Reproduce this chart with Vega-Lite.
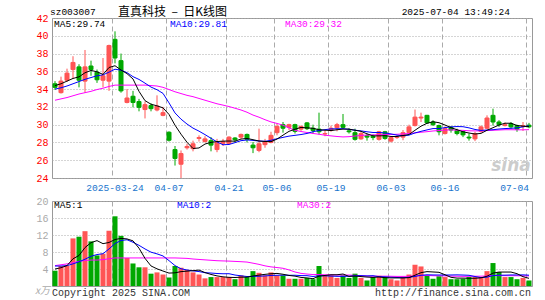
{
"$schema":"https://vega.github.io/schema/vega-lite/v6.json",
"background":"white",
"padding":{"left":34,"top":5,"right":5,"bottom":0},
"spacing":23,
"bounds":"flush",
"config":{"view":{"stroke":"#999","strokeWidth":1},"font":"Liberation Mono","text":{"font":"Liberation Mono","fontSize":9.5},"axis":{"labelOverlap":false,"labelBound":false,"labelFlush":false}},
"datasets":{"k":[
{"d":"2025-03-10","o":34.6,"h":34.9,"l":33.9,"c":34.2,"v":3.6,"m5":34.4,"m10":34.0,"m30":32.75,"v5":4.0,"v10":4.7,"v30":4.8},
{"d":"2025-03-11","o":33.6,"h":35.4,"l":33.5,"c":34.9,"v":4.7,"m5":34.6,"m10":34.15,"m30":32.9,"v5":4.3,"v10":4.7,"v30":5.0},
{"d":"2025-03-12","o":35.0,"h":36.3,"l":34.8,"c":35.8,"v":4.8,"m5":34.9,"m10":34.35,"m30":33.05,"v5":4.8,"v10":4.8,"v30":5.2},
{"d":"2025-03-13","o":36.2,"h":37.7,"l":35.2,"c":37.0,"v":11.2,"m5":35.2,"m10":34.6,"m30":33.25,"v5":6.4,"v10":5.2,"v30":5.5},
{"d":"2025-03-14","o":36.5,"h":36.8,"l":34.2,"c":35.0,"v":11.6,"m5":35.38,"m10":34.85,"m30":33.45,"v5":7.18,"v10":5.7,"v30":5.8},
{"d":"2025-03-17","o":34.9,"h":38.4,"l":33.6,"c":36.5,"v":12.9,"m5":35.84,"m10":35.1,"m30":33.6,"v5":9.04,"v10":6.3,"v30":6.0},
{"d":"2025-03-18","o":36.6,"h":37.2,"l":35.5,"c":36.2,"v":10.5,"m5":36.1,"m10":35.3,"m30":33.75,"v5":10.2,"v10":7.0,"v30":6.1},
{"d":"2025-03-19","o":35.9,"h":36.2,"l":34.7,"c":35.05,"v":7.2,"m5":35.95,"m10":35.5,"m30":33.95,"v5":10.68,"v10":7.4,"v30":6.1},
{"d":"2025-03-20","o":35.0,"h":37.5,"l":34.2,"c":35.5,"v":7.6,"m5":35.65,"m10":35.6,"m30":34.1,"v5":9.96,"v10":7.6,"v30":6.2},
{"d":"2025-03-21","o":34.9,"h":39.0,"l":33.8,"c":38.9,"v":13.0,"m5":36.43,"m10":35.91,"m30":34.3,"v5":10.24,"v10":8.71,"v30":6.4},
{"d":"2025-03-24","o":39.6,"h":40.5,"l":36.9,"c":37.5,"v":16.4,"m5":36.63,"m10":36.24,"m30":34.45,"v5":10.94,"v10":9.99,"v30":6.6},
{"d":"2025-03-25","o":37.2,"h":38.0,"l":33.6,"c":33.8,"v":11.8,"m5":36.15,"m10":36.13,"m30":34.45,"v5":11.2,"v10":10.7,"v30":6.6},
{"d":"2025-03-26","o":32.5,"h":34.0,"l":32.4,"c":33.0,"v":6.6,"m5":35.74,"m10":35.85,"m30":34.45,"v5":11.08,"v10":10.88,"v30":6.6},
{"d":"2025-03-27","o":33.2,"h":33.8,"l":31.95,"c":32.5,"v":5.3,"m5":35.14,"m10":35.4,"m30":34.45,"v5":10.62,"v10":10.29,"v30":6.6},
{"d":"2025-03-28","o":32.6,"h":32.9,"l":31.5,"c":31.95,"v":4.4,"m5":33.75,"m10":35.09,"m30":34.45,"v5":8.9,"v10":9.57,"v30":6.6},
{"d":"2025-03-31","o":31.7,"h":32.6,"l":30.7,"c":32.25,"v":4.4,"m5":32.7,"m10":34.67,"m30":34.45,"v5":6.5,"v10":8.72,"v30":6.6},
{"d":"2025-04-01","o":32.15,"h":32.4,"l":31.5,"c":31.8,"v":2.9,"m5":32.3,"m10":34.23,"m30":34.4,"v5":4.72,"v10":7.96,"v30":6.6},
{"d":"2025-04-02","o":31.65,"h":33.3,"l":31.5,"c":32.1,"v":3.2,"m5":32.12,"m10":33.93,"m30":34.35,"v5":4.04,"v10":7.56,"v30":6.6},
{"d":"2025-04-03","o":31.05,"h":32.0,"l":30.95,"c":31.35,"v":2.7,"m5":31.89,"m10":33.52,"m30":34.2,"v5":3.52,"v10":7.07,"v30":6.6},
{"d":"2025-04-07","o":29.15,"h":29.25,"l":28.1,"c":28.25,"v":2.0,"m5":31.15,"m10":32.45,"m30":33.95,"v5":3.04,"v10":5.97,"v30":6.6},
{"d":"2025-04-08","o":27.2,"h":27.6,"l":25.4,"c":26.2,"v":4.7,"m5":29.94,"m10":31.32,"m30":33.7,"v5":3.1,"v10":4.8,"v30":6.6},
{"d":"2025-04-09","o":25.55,"h":27.1,"l":24.0,"c":26.75,"v":4.3,"m5":28.93,"m10":30.62,"m30":33.5,"v5":3.38,"v10":4.05,"v30":6.55},
{"d":"2025-04-10","o":27.4,"h":27.85,"l":27.2,"c":27.55,"v":3.8,"m5":28.02,"m10":30.07,"m30":33.3,"v5":3.5,"v10":3.77,"v30":6.5},
{"d":"2025-04-11","o":27.3,"h":28.2,"l":27.0,"c":27.85,"v":3.2,"m5":27.32,"m10":29.61,"m30":33.15,"v5":3.6,"v10":3.56,"v30":6.35},
{"d":"2025-04-14","o":28.45,"h":28.8,"l":28.1,"c":28.55,"v":2.7,"m5":27.38,"m10":29.27,"m30":32.95,"v5":3.74,"v10":3.39,"v30":6.25},
{"d":"2025-04-15","o":28.1,"h":28.7,"l":28.0,"c":28.4,"v":1.8,"m5":27.82,"m10":28.88,"m30":32.75,"v5":3.16,"v10":3.13,"v30":6.15},
{"d":"2025-04-16","o":28.2,"h":28.6,"l":27.0,"c":27.7,"v":2.1,"m5":28.01,"m10":28.47,"m30":32.55,"v5":2.72,"v10":3.05,"v30":6.05},
{"d":"2025-04-17","o":27.2,"h":28.4,"l":26.9,"c":28.0,"v":2.1,"m5":28.1,"m10":28.06,"m30":32.35,"v5":2.38,"v10":2.94,"v30":5.95},
{"d":"2025-04-18","o":27.9,"h":28.4,"l":27.6,"c":28.1,"v":2.1,"m5":28.15,"m10":27.74,"m30":32.2,"v5":2.16,"v10":2.88,"v30":5.9},
{"d":"2025-04-21","o":27.9,"h":28.7,"l":27.8,"c":28.6,"v":2.1,"m5":28.16,"m10":27.77,"m30":32.04,"v5":2.04,"v10":2.89,"v30":5.86},
{"d":"2025-04-22","o":28.5,"h":28.6,"l":28.0,"c":28.3,"v":1.6,"m5":28.14,"m10":27.98,"m30":31.85,"v5":2.0,"v10":2.58,"v30":5.79},
{"d":"2025-04-23","o":28.6,"h":29.0,"l":28.4,"c":28.9,"v":2.5,"m5":28.38,"m10":28.2,"m30":31.65,"v5":2.08,"v10":2.4,"v30":5.72},
{"d":"2025-04-24","o":28.9,"h":29.0,"l":28.0,"c":28.35,"v":2.1,"m5":28.45,"m10":28.28,"m30":31.4,"v5":2.08,"v10":2.23,"v30":5.63},
{"d":"2025-04-25","o":27.7,"h":28.05,"l":26.8,"c":27.4,"v":3.5,"m5":28.31,"m10":28.23,"m30":31.08,"v5":2.36,"v10":2.26,"v30":5.37},
{"d":"2025-04-28","o":27.1,"h":29.55,"l":26.9,"c":27.85,"v":3.1,"m5":28.16,"m10":28.16,"m30":30.84,"v5":2.56,"v10":2.3,"v30":5.09},
{"d":"2025-04-29","o":27.75,"h":28.4,"l":27.4,"c":28.05,"v":2.5,"m5":28.11,"m10":28.13,"m30":30.56,"v5":2.74,"v10":2.37,"v30":4.74},
{"d":"2025-04-30","o":28.0,"h":29.2,"l":27.9,"c":28.8,"v":3.2,"m5":28.09,"m10":28.24,"m30":30.31,"v5":2.88,"v10":2.48,"v30":4.5},
{"d":"2025-05-06","o":29.1,"h":30.1,"l":28.8,"c":29.8,"v":2.5,"m5":28.38,"m10":28.42,"m30":30.14,"v5":2.96,"v10":2.52,"v30":4.34},
{"d":"2025-05-07","o":30.0,"h":30.3,"l":29.1,"c":29.6,"v":2.5,"m5":28.82,"m10":28.57,"m30":29.94,"v5":2.76,"v10":2.56,"v30":4.17},
{"d":"2025-05-08","o":29.7,"h":30.1,"l":29.4,"c":30.0,"v":1.7,"m5":29.25,"m10":28.71,"m30":29.64,"v5":2.48,"v10":2.52,"v30":3.79},
{"d":"2025-05-09","o":30.0,"h":30.1,"l":29.0,"c":29.25,"v":1.7,"m5":29.49,"m10":28.8,"m30":29.37,"v5":2.32,"v10":2.53,"v30":3.3},
{"d":"2025-05-12","o":29.5,"h":29.9,"l":29.3,"c":29.8,"v":1.7,"m5":29.69,"m10":28.89,"m30":29.23,"v5":2.02,"v10":2.45,"v30":2.97},
{"d":"2025-05-13","o":30.2,"h":30.3,"l":29.4,"c":29.55,"v":1.9,"m5":29.64,"m10":29.01,"m30":29.12,"v5":1.9,"v10":2.43,"v30":2.81},
{"d":"2025-05-14","o":29.6,"h":30.0,"l":29.0,"c":29.35,"v":1.6,"m5":29.59,"m10":29.21,"m30":29.01,"v5":1.72,"v10":2.24,"v30":2.69},
{"d":"2025-05-15","o":29.5,"h":31.35,"l":28.9,"c":29.2,"v":4.7,"m5":29.43,"m10":29.34,"m30":28.92,"v5":2.32,"v10":2.4,"v30":2.7},
{"d":"2025-05-16","o":28.95,"h":29.4,"l":28.7,"c":29.0,"v":2.5,"m5":29.38,"m10":29.44,"m30":28.81,"v5":2.48,"v10":2.4,"v30":2.63},
{"d":"2025-05-19","o":29.35,"h":29.9,"l":29.2,"c":29.6,"v":2.5,"m5":29.34,"m10":29.52,"m30":28.74,"v5":2.64,"v10":2.33,"v30":2.62},
{"d":"2025-05-20","o":29.65,"h":30.2,"l":29.25,"c":30.0,"v":1.9,"m5":29.43,"m10":29.54,"m30":28.67,"v5":2.64,"v10":2.27,"v30":2.58},
{"d":"2025-05-21","o":30.0,"h":31.2,"l":29.55,"c":29.7,"v":2.5,"m5":29.5,"m10":29.55,"m30":28.62,"v5":2.82,"v10":2.27,"v30":2.57},
{"d":"2025-05-22","o":29.3,"h":29.6,"l":29.0,"c":29.2,"v":1.9,"m5":29.5,"m10":29.47,"m30":28.65,"v5":2.26,"v10":2.29,"v30":2.57},
{"d":"2025-05-23","o":29.1,"h":29.55,"l":28.2,"c":28.35,"v":2.9,"m5":29.37,"m10":29.38,"m30":28.72,"v5":2.34,"v10":2.41,"v30":2.51},
{"d":"2025-05-26","o":28.4,"h":29.2,"l":28.3,"c":29.0,"v":1.9,"m5":29.25,"m10":29.3,"m30":28.79,"v5":2.22,"v10":2.43,"v30":2.43},
{"d":"2025-05-27","o":28.75,"h":29.0,"l":28.2,"c":28.6,"v":1.3,"m5":28.97,"m10":29.2,"m30":28.83,"v5":2.1,"v10":2.37,"v30":2.34},
{"d":"2025-05-28","o":28.7,"h":28.9,"l":28.25,"c":28.55,"v":2.1,"m5":28.74,"m10":29.12,"m30":28.85,"v5":2.02,"v10":2.42,"v30":2.31},
{"d":"2025-05-29","o":28.35,"h":29.3,"l":28.2,"c":29.2,"v":2.4,"m5":28.74,"m10":29.12,"m30":28.87,"v5":2.12,"v10":2.19,"v30":2.3},
{"d":"2025-05-30","o":29.2,"h":29.3,"l":28.3,"c":28.45,"v":2.1,"m5":28.76,"m10":29.07,"m30":28.88,"v5":1.96,"v10":2.15,"v30":2.31},
{"d":"2025-06-03","o":28.15,"h":28.6,"l":28.0,"c":28.55,"v":1.6,"m5":28.67,"m10":28.96,"m30":28.9,"v5":1.9,"v10":2.06,"v30":2.29},
{"d":"2025-06-04","o":28.55,"h":28.8,"l":28.4,"c":28.6,"v":1.3,"m5":28.67,"m10":28.82,"m30":28.92,"v5":1.9,"v10":2.0,"v30":2.26},
{"d":"2025-06-05","o":28.6,"h":29.4,"l":28.25,"c":29.1,"v":2.1,"m5":28.78,"m10":28.76,"m30":28.96,"v5":1.9,"v10":1.96,"v30":2.26},
{"d":"2025-06-06","o":29.1,"h":30.0,"l":29.0,"c":29.75,"v":2.7,"m5":28.89,"m10":28.82,"m30":29.0,"v5":1.96,"v10":2.04,"v30":2.28},
{"d":"2025-06-09","o":29.9,"h":31.7,"l":29.8,"c":30.85,"v":5.0,"m5":29.37,"m10":29.07,"m30":29.08,"v5":2.54,"v10":2.25,"v30":2.4},
{"d":"2025-06-10","o":30.75,"h":31.35,"l":30.3,"c":30.85,"v":4.6,"m5":29.83,"m10":29.25,"m30":29.15,"v5":3.14,"v10":2.52,"v30":2.47},
{"d":"2025-06-11","o":31.05,"h":31.1,"l":30.1,"c":30.2,"v":2.5,"m5":30.15,"m10":29.41,"m30":29.21,"v5":3.38,"v10":2.64,"v30":2.48},
{"d":"2025-06-12","o":30.3,"h":30.5,"l":29.85,"c":30.0,"v":1.7,"m5":30.33,"m10":29.56,"m30":29.29,"v5":3.3,"v10":2.6,"v30":2.42},
{"d":"2025-06-13","o":29.9,"h":30.0,"l":28.8,"c":29.2,"v":2.3,"m5":30.22,"m10":29.56,"m30":29.34,"v5":3.22,"v10":2.59,"v30":2.39},
{"d":"2025-06-16","o":29.0,"h":29.8,"l":28.9,"c":29.55,"v":2.1,"m5":29.96,"m10":29.67,"m30":29.39,"v5":2.64,"v10":2.59,"v30":2.38},
{"d":"2025-06-17","o":29.7,"h":29.85,"l":29.1,"c":29.4,"v":1.6,"m5":29.67,"m10":29.75,"m30":29.41,"v5":2.04,"v10":2.59,"v30":2.33},
{"d":"2025-06-18","o":29.35,"h":29.55,"l":28.8,"c":29.0,"v":1.6,"m5":29.43,"m10":29.79,"m30":29.38,"v5":1.86,"v10":2.62,"v30":2.3},
{"d":"2025-06-19","o":29.2,"h":29.3,"l":28.6,"c":28.85,"v":1.7,"m5":29.2,"m10":29.77,"m30":29.36,"v5":1.86,"v10":2.58,"v30":2.27},
{"d":"2025-06-20","o":28.6,"h":29.0,"l":28.2,"c":28.5,"v":2.1,"m5":29.06,"m10":29.64,"m30":29.31,"v5":1.82,"v10":2.52,"v30":2.28},
{"d":"2025-06-23","o":28.4,"h":29.2,"l":28.15,"c":29.0,"v":2.1,"m5":28.95,"m10":29.46,"m30":29.3,"v5":1.82,"v10":2.23,"v30":2.3},
{"d":"2025-06-24","o":29.25,"h":29.9,"l":29.1,"c":29.75,"v":2.1,"m5":29.02,"m10":29.35,"m30":29.3,"v5":1.92,"v10":1.98,"v30":2.31},
{"d":"2025-06-25","o":29.6,"h":31.05,"l":29.5,"c":30.75,"v":3.5,"m5":29.37,"m10":29.4,"m30":29.34,"v5":2.3,"v10":2.08,"v30":2.36},
{"d":"2025-06-26","o":31.05,"h":31.8,"l":29.9,"c":30.3,"v":5.4,"m5":29.66,"m10":29.43,"m30":29.37,"v5":3.04,"v10":2.45,"v30":2.49},
{"d":"2025-06-27","o":30.3,"h":30.5,"l":29.75,"c":30.0,"v":3.3,"m5":29.96,"m10":29.51,"m30":29.4,"v5":3.28,"v10":2.55,"v30":2.44},
{"d":"2025-06-30","o":29.9,"h":30.25,"l":29.8,"c":30.0,"v":2.1,"m5":30.16,"m10":29.56,"m30":29.43,"v5":3.28,"v10":2.55,"v30":2.43},
{"d":"2025-07-01","o":30.1,"h":30.3,"l":29.55,"c":29.75,"v":2.1,"m5":30.16,"m10":29.59,"m30":29.43,"v5":3.28,"v10":2.6,"v30":2.42},
{"d":"2025-07-02","o":29.9,"h":30.0,"l":29.2,"c":29.5,"v":1.6,"m5":29.91,"m10":29.64,"m30":29.42,"v5":2.9,"v10":2.6,"v30":2.41},
{"d":"2025-07-03","o":29.8,"h":30.3,"l":29.3,"c":29.9,"v":1.9,"m5":29.83,"m10":29.75,"m30":29.42,"v5":2.2,"v10":2.62,"v30":2.39},
{"d":"2025-07-04","o":29.95,"h":30.2,"l":29.6,"c":29.75,"v":1.3,"m5":29.78,"m10":29.87,"m30":29.44,"v5":1.8,"v10":2.54,"v30":2.37}
]},
"vconcat":[
{
"width":480,"height":160,
"data":{"name":"k"},
"encoding":{"x":{"field":"d","type":"ordinal","title":null,"scale":{"type":"band","paddingInner":0,"paddingOuter":0},
 "axis":{"values":["2025-03-24","2025-04-07","2025-04-21","2025-05-06","2025-05-19","2025-06-03","2025-06-16","2025-07-04"],
  "labelExpr":"datum.value == '2025-03-24' ? datum.value : slice(datum.value, 5)",
  "bandPosition":0,"grid":true,"gridColor":"#aaa","gridDash":[5,3],"ticks":false,"domain":false,"labelAngle":0,
  "labelColor":"#1874cd","labelFont":"Liberation Mono","labelFontSize":9.6,"labelPadding":4,
  "labelAlign":{"condition":{"test":"datum.value == '2025-07-04'","value":"right"},"value":"center"}}}},
"layer":[
{"mark":{"type":"rule","strokeWidth":1},
 "encoding":{"y":{"field":"l","type":"quantitative","title":null,"scale":{"domain":[24,42],"nice":false,"zero":false},
   "axis":{"values":[24,26,28,30,32,34,36,38,40,42],"tickCount":20,"grid":true,"gridColor":"#aaa","gridDash":[1,2],"ticks":false,"domain":false,
    "labelColor":"#ff0000","labelFont":"Liberation Mono","labelFontSize":10,"labelPadding":4,"labelOverlap":false,"labelFlush":false,"labelBound":false}},
  "y2":{"field":"h"},
  "color":{"condition":{"test":"datum.c >= datum.o","value":"#ff5555"},"value":"#00a800"}}},
{"mark":{"type":"bar","width":{"band":0.67},"strokeWidth":1},
 "encoding":{"y":{"field":"o","type":"quantitative","title":null},"y2":{"field":"c"},
  "color":{"condition":{"test":"datum.c >= datum.o","value":"#ff5555"},"value":"#00a800"},
  "stroke":{"condition":{"test":"datum.c >= datum.o","value":"#ff5555"},"value":"#00a800"}}},
{"mark":{"type":"line","color":"#ff00ff","strokeWidth":1},"encoding":{"y":{"field":"m30","type":"quantitative","title":null}}},
{"mark":{"type":"line","color":"#0000ff","strokeWidth":1},"encoding":{"y":{"field":"m10","type":"quantitative","title":null}}},
{"mark":{"type":"line","color":"#000000","strokeWidth":1},"encoding":{"y":{"field":"m5","type":"quantitative","title":null}}},
{"data":{"values":[{"t":"sz003007"}]},"mark":{"type":"text","align":"left","baseline":"middle","dx":-5,"color":"#000"},
 "encoding":{"x":{"datum":"2025-03-10"},"y":{"datum":42.73,"type":"quantitative","title":null},"text":{"field":"t"}}},
{"data":{"values":[{"t":"直真科技\u00a0\u00a0–\u00a0\u00a0日K线图"}]},"mark":{"type":"text","align":"left","baseline":"middle","dx":9,"color":"#000","font":"Noto Sans CJK SC","fontSize":12},
 "encoding":{"x":{"datum":"2025-03-21"},"y":{"datum":42.73,"type":"quantitative","title":null},"text":{"field":"t"}}},
{"data":{"values":[{"t":"2025-07-04 13:49:24"}]},"mark":{"type":"text","align":"right","baseline":"middle","dx":-1,"color":"#000"},
 "encoding":{"x":{"datum":"2025-07-01"},"y":{"datum":42.73,"type":"quantitative","title":null},"text":{"field":"t"}}},
{"data":{"values":[{"t":"MA5:29.74"}]},"mark":{"type":"text","align":"left","baseline":"middle","dx":-1,"color":"#000"},
 "encoding":{"x":{"datum":"2025-03-10"},"y":{"datum":41.3,"type":"quantitative","title":null},"text":{"field":"t"}}},
{"data":{"values":[{"t":"MA10:29.81"}]},"mark":{"type":"text","align":"left","baseline":"middle","dx":1,"color":"#0000ff"},
 "encoding":{"x":{"datum":"2025-04-07"},"y":{"datum":41.3,"type":"quantitative","title":null},"text":{"field":"t"}}},
{"data":{"values":[{"t":"MA30:29.32"}]},"mark":{"type":"text","align":"left","baseline":"middle","dx":2,"color":"#ff00ff"},
 "encoding":{"x":{"datum":"2025-05-07"},"y":{"datum":41.3,"type":"quantitative","title":null},"text":{"field":"t"}}},
{"data":{"values":[{"t":"sina"}]},"mark":{"type":"text","align":"center","baseline":"middle","color":"#cccccc","font":"DejaVu Sans","fontSize":17,"fontStyle":"italic","fontWeight":"bold"},
 "encoding":{"x":{"datum":"2025-07-01"},"y":{"datum":25.3,"type":"quantitative","title":null},"text":{"field":"t"}}}
]
},
{
"width":480,"height":85,
"data":{"name":"k"},
"encoding":{"x":{"field":"d","type":"ordinal","title":null,"scale":{"type":"band","paddingInner":0,"paddingOuter":0},
 "axis":{"values":["2025-03-24","2025-04-07","2025-04-21","2025-05-06","2025-05-19","2025-06-03","2025-06-16","2025-07-04"],
  "labels":false,"bandPosition":0,"grid":true,"gridColor":"#aaa","gridDash":[5,3],"ticks":false,"domain":false}}},
"layer":[
{"mark":{"type":"bar","width":{"band":0.84}},
 "encoding":{"y":{"field":"v","type":"quantitative","title":null,"scale":{"domain":[0,20],"nice":false},
   "axis":{"values":[4,8,12,16,20],"tickCount":20,"grid":true,"gridColor":"#aaa","gridDash":[1,2],"ticks":false,"domain":false,
    "labelColor":"#aaaaaa","labelFont":"Liberation Mono","labelFontSize":10,"labelPadding":4,"labelOverlap":false,"labelFlush":false,"labelBound":false}},
  "color":{"condition":{"test":"datum.c >= datum.o","value":"#ff5555"},"value":"#00a800"}}},
{"mark":{"type":"line","color":"#ff00ff","strokeWidth":1},"encoding":{"y":{"field":"v30","type":"quantitative","title":null}}},
{"mark":{"type":"line","color":"#0000ff","strokeWidth":1},"encoding":{"y":{"field":"v10","type":"quantitative","title":null}}},
{"mark":{"type":"line","color":"#000000","strokeWidth":1},"encoding":{"y":{"field":"v5","type":"quantitative","title":null}}},
{"data":{"values":[{"t":"MA5:1"}]},"mark":{"type":"text","align":"left","baseline":"middle","dx":-1,"color":"#000"},
 "encoding":{"x":{"datum":"2025-03-10"},"y":{"datum":19.0,"type":"quantitative","title":null},"text":{"field":"t"}}},
{"data":{"values":[{"t":"MA10:2"}]},"mark":{"type":"text","align":"left","baseline":"middle","dx":2,"color":"#0000ff"},
 "encoding":{"x":{"datum":"2025-04-08"},"y":{"datum":19.0,"type":"quantitative","title":null},"text":{"field":"t"}}},
{"data":{"values":[{"t":"MA30:2"}]},"mark":{"type":"text","align":"left","baseline":"middle","dx":2,"color":"#ff00ff"},
 "encoding":{"x":{"datum":"2025-05-09"},"y":{"datum":19.0,"type":"quantitative","title":null},"text":{"field":"t"}}},
{"data":{"values":[{"t":"Copyright 2025 SINA.COM"}]},"mark":{"type":"text","align":"left","baseline":"middle","dx":-3,"color":"#333","fontSize":10},
 "encoding":{"x":{"datum":"2025-03-10"},"y":{"datum":-1.65,"type":"quantitative","title":null},"text":{"field":"t"}}},
{"data":{"values":[{"t":"http://finance.sina.com.cn"}]},"mark":{"type":"text","align":"right","baseline":"middle","dx":2,"color":"#333","fontSize":10},
 "encoding":{"x":{"datum":"2025-07-04"},"y":{"datum":-1.65,"type":"quantitative","title":null},"text":{"field":"t"}}},
{"data":{"values":[{"t":"x万"}]},"mark":{"type":"text","align":"right","baseline":"middle","dx":-5,"color":"#aaaaaa","fontStyle":"italic","font":"Noto Sans CJK SC","fontSize":10},
 "encoding":{"x":{"datum":"2025-03-10"},"y":{"datum":-1.1,"type":"quantitative","title":null},"text":{"field":"t"}}}
]
}
]
}
